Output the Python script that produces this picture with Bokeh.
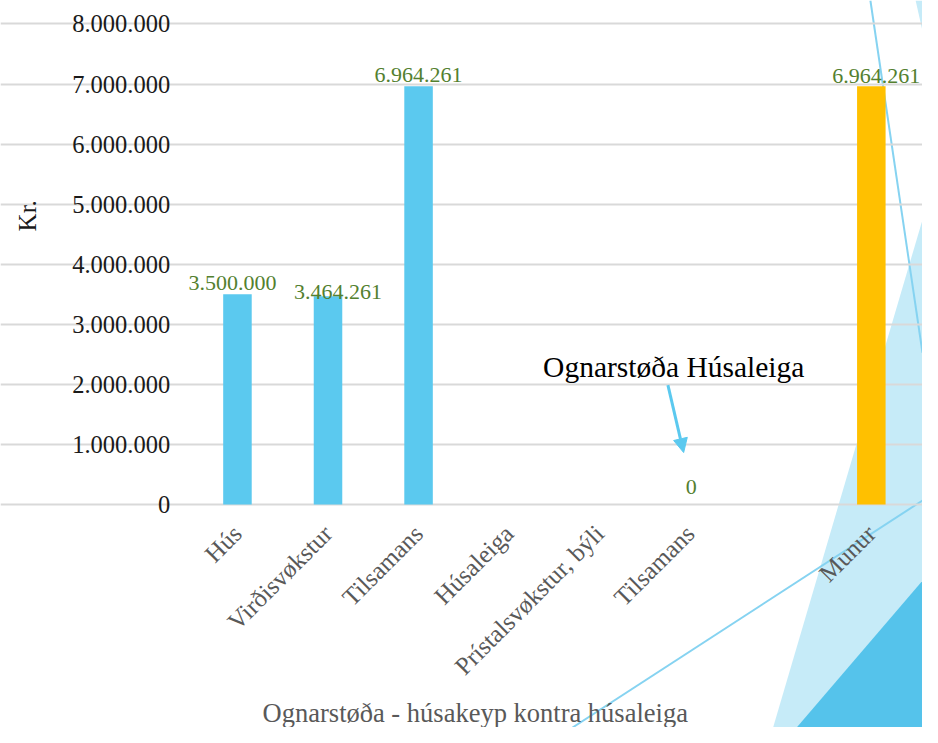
from math import pi
from bokeh.plotting import figure
from bokeh.models import Range1d, FixedTicker, Arrow, NormalHead, ColumnDataSource
from bokeh.core.properties import value
from bokeh.embed import file_html
from bokeh.resources import INLINE

# ---------------- data ----------------
categories = ["Hús", "Virðisvøkstur", "Tilsamans", "Húsaleiga",
              "Prístalsvøkstur, býli", "Tilsamans", "", "Munur"]
values = [3500000, 3464261, 6964261, None, None, 0, None, 6964261]
y_ticks = [0, 1000000, 2000000, 3000000, 4000000, 5000000, 6000000, 7000000, 8000000]
y_tick_labels = ["0", "1.000.000", "2.000.000", "3.000.000", "4.000.000",
                 "5.000.000", "6.000.000", "7.000.000", "8.000.000"]
title_text = "Ognarstøða - húsakeyp kontra húsaleiga"
y_label = "Kr."
callout_text = "Ognarstøða Húsaleiga"

# ---------------- style ----------------
BLUE = "#5BC9EF"
ORANGE = "#FFC000"
LABEL_GREEN = "#53802F"
GRID = "#d9d9d9"
GRAY_TXT = "#595959"
DECO_LIGHT = "#C6EBF8"
DECO_DARK = "#55C3EB"
DECO_LINE = "#86D3F1"
FONT = "Liberation Serif"
bar_colors = [BLUE, BLUE, BLUE, BLUE, BLUE, BLUE, BLUE, ORANGE]
label_dx = [-5, 10, 0, 0, 0, 1, 0, 5]
label_dy = [-11, -4, -11, 0, 0, -17, 0, -10]

W, H = 922, 727               # canvas; reference layout (938x743) is scaled into it
REF_W, REF_H = 938, 743
CAT_LEFT, CAT_W = 195.0, 92.125
ZERO_Y, TOP_Y, YMAX = 515.0, 24.0, 8000000.0


def X(px):
    return (px - CAT_LEFT) / CAT_W - 0.5


def Y(py):
    return (ZERO_Y - py) * YMAX / (ZERO_Y - TOP_Y)


p = figure(width=W, height=H, output_backend="svg", toolbar_location=None,
           x_range=Range1d(X(0), X(REF_W)), y_range=Range1d(Y(REF_H), Y(0)),
           min_border=0, tools="")
p.outline_line_color = None
p.background_fill_color = "white"
p.border_fill_color = "white"

# slide decorations (background)
p.patch([X(938), X(786), X(938)], [Y(224), Y(743), Y(743)], fill_color=DECO_LIGHT,
        line_color=None, level="image")
p.patch([X(931), X(940), X(940)], [Y(0), Y(0), Y(40)], fill_color=DECO_LIGHT,
        line_color=None, level="image")
p.patch([X(938), X(810), X(938)], [Y(593), Y(743), Y(743)], fill_color=DECO_DARK,
        line_color=None, level="image")
p.line([X(885), X(938)], [Y(0), Y(360)], line_color=DECO_LINE, line_width=2, level="image")
p.line([X(582), X(938)], [Y(743), Y(511)], line_color=DECO_LINE, line_width=2, level="image")

# grid
p.xgrid.visible = False
p.ygrid.ticker = FixedTicker(ticks=y_ticks)
p.ygrid.grid_line_color = GRID
p.ygrid.grid_line_width = 2
p.ygrid.bounds = (-0.5, X(932))

# bars
idx = [i for i, v in enumerate(values) if v is not None]
src = ColumnDataSource(dict(
    x=idx,
    top=[values[i] for i in idx],
    color=[bar_colors[i] for i in idx],
    text=[f"{values[i]:,}".replace(",", ".") for i in idx],
    dx=[label_dx[i] for i in idx],
    dy=[label_dy[i] for i in idx],
))
p.vbar(x="x", top="top", width=0.315, fill_color="color", line_color=None, source=src)
p.text(x="x", y="top", text="text", x_offset="dx", y_offset="dy", source=src,
       text_align="center", text_baseline="alphabetic", text_color=LABEL_GREEN,
       text_font=value(FONT), text_font_size="22px")

# axes
xa = p.xaxis[0]
xa.fixed_location = 0
xa.ticker = FixedTicker(ticks=list(range(len(categories))))
xa.major_label_overrides = {i: c for i, c in enumerate(categories)}
xa.major_label_orientation = pi / 4
xa.axis_line_color = None
xa.major_tick_line_color = None
xa.minor_tick_line_color = None
xa.major_tick_out = 0
xa.major_tick_in = 0
xa.major_label_standoff = 25
xa.major_label_text_font = FONT
xa.major_label_text_font_size = "25px"
xa.major_label_text_color = GRAY_TXT

ya = p.yaxis[0]
ya.fixed_location = -0.5
ya.ticker = FixedTicker(ticks=y_ticks)
ya.major_label_overrides = {t: l for t, l in zip(y_ticks, y_tick_labels)}
ya.axis_line_color = None
ya.major_tick_line_color = None
ya.minor_tick_line_color = None
ya.major_tick_out = 0
ya.major_tick_in = 0
ya.major_label_standoff = 22
ya.major_label_text_font = FONT
ya.major_label_text_font_size = "24.5px"
ya.major_label_text_color = "#1a1a1a"

# texts
p.text(x=[X(27)], y=[Y(220)], text=[y_label], angle=pi / 2, text_align="center",
       text_baseline="middle", text_font=value(FONT), text_font_size="25px",
       text_color="#1a1a1a")
p.text(x=[X(483)], y=[Y(728)], text=[title_text], text_align="center",
       text_baseline="alphabetic", text_font=value(FONT), text_font_size="26.5px",
       text_color=GRAY_TXT)
p.text(x=[X(552)], y=[Y(375)], text=[callout_text], text_align="left",
       text_baseline="alphabetic", text_font=value(FONT), text_font_size="29.5px",
       text_color="#000000")

p.add_layout(Arrow(x_start=X(679), y_start=Y(393), x_end=X(695), y_end=Y(462),
                   line_color=BLUE, line_width=3,
                   end=NormalHead(size=14, fill_color=BLUE, line_color=BLUE)))

open("out.html", "w").write(file_html(p, INLINE))
